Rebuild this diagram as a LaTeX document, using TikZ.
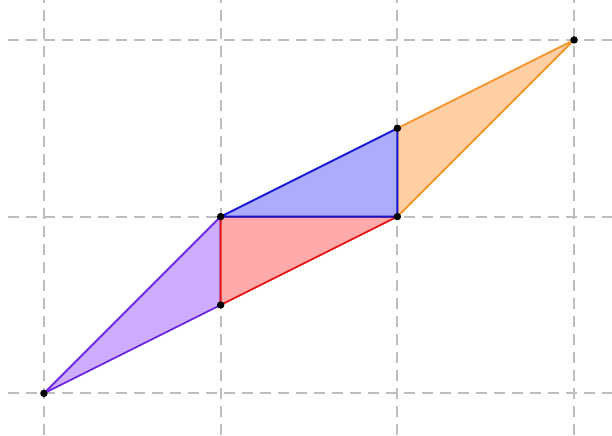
\documentclass[tikz,border=0pt]{standalone}
\definecolor{gridgray}{RGB}{190,190,190}
\definecolor{pfill}{RGB}{206,172,255}
\definecolor{pline}{RGB}{110,40,230}
\definecolor{rfill}{RGB}{255,170,170}
\definecolor{rline}{RGB}{230,20,20}
\definecolor{bfill}{RGB}{172,172,255}
\definecolor{bline}{RGB}{20,20,210}
\definecolor{ofill}{RGB}{255,206,162}
\definecolor{oline}{RGB}{240,150,50}
\tikzset{
  gridline/.style={gridgray, line width=0.7pt, dash pattern=on 3.5pt off 2.3pt},
  tri/.style={line width=0.6pt, line join=round},
  pt/.style={circle, fill=black, inner sep=0pt, minimum size=2.4pt}
}
\begin{document}
\begin{tikzpicture}[x=2cm,y=2cm]
\useasboundingbox (-0.2486,-0.2373) rectangle (3.2147,2.226);
% grid
\foreach \y in {0,1,2} \draw[gridline] (-0.203,\y) -- (3.2147,\y);
\foreach \x in {0,1,2,3} \draw[gridline] (\x,-0.2373) -- (\x,2.226);
% points
\coordinate (A) at (0,0);
\coordinate (B) at (1,0.5);
\coordinate (C) at (1,1);
\coordinate (D) at (2,1);
\coordinate (E) at (2,1.5);
\coordinate (F) at (3,2);
% triangles
\filldraw[tri, fill=pfill, draw=pline] (A) -- (C) -- (B) -- cycle;
\filldraw[tri, fill=ofill, draw=oline] (E) -- (F) -- (D) -- cycle;
\filldraw[tri, fill=rfill, draw=rline] (C) -- (D) -- (B) -- cycle;
\filldraw[tri, fill=bfill, draw=bline] (C) -- (D) -- (E) -- cycle;
% dots
\foreach \p in {A,B,C,D,E,F} \node[pt] (n\p) at (\p) {};
\end{tikzpicture}
\end{document}
